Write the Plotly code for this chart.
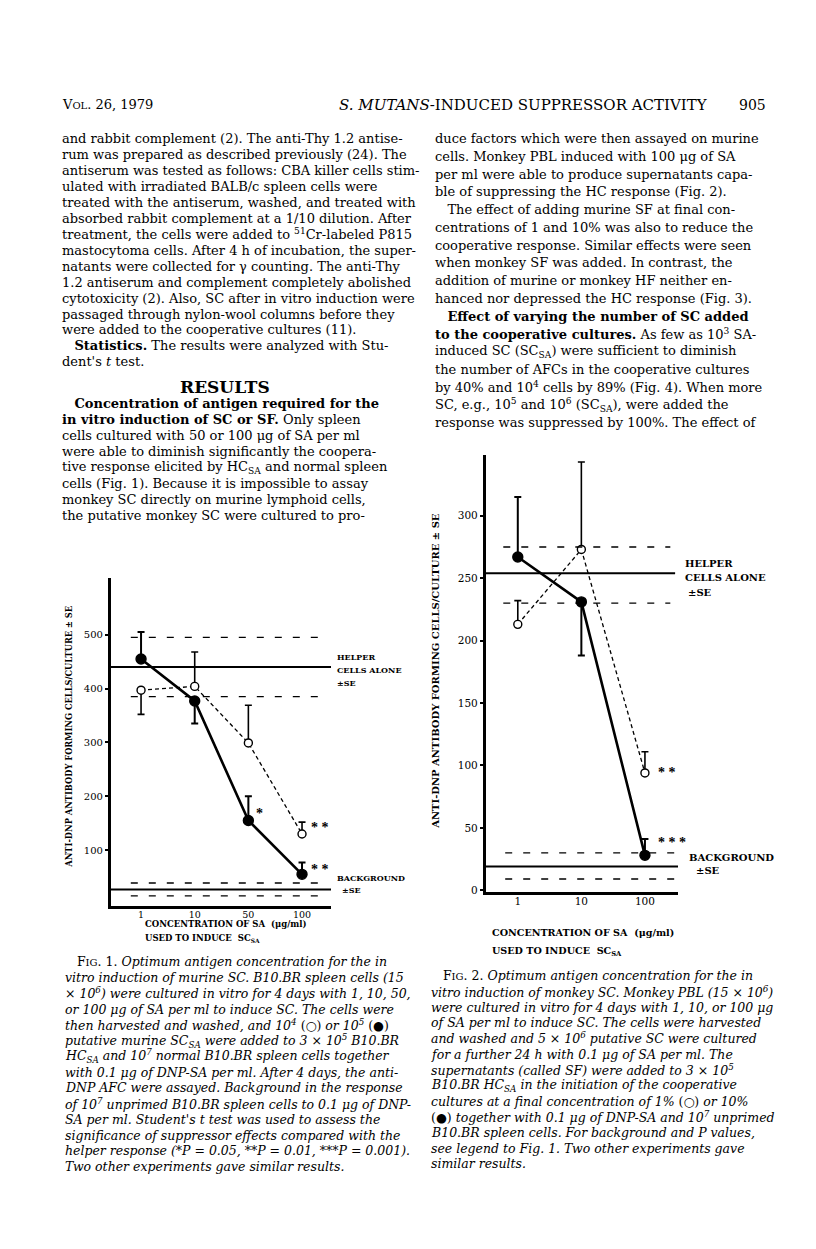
import plotly.graph_objects as go

# page size of the scanned sheet
W, H = 816, 1249

# ---- Fig. 1 data (murine SC) ----
fig1_conc = ["1", "10", "50", "100"]
fig1_filled = [455, 377, 155, 55]          # 10^5 SC
fig1_filled_up = [50, 0, 45, 22]
fig1_filled_down = [0, 42, 0, 0]
fig1_open = [397, 404, 299, 130]           # 10^4 SC
fig1_open_up = [0, 64, 70, 22]
fig1_open_down = [45, 0, 0, 0]
fig1_helper = [440, 385, 495]              # mean, -SE, +SE
fig1_background = [27, 15, 39]
fig1_yticks = [100, 200, 300, 400, 500]

# ---- Fig. 2 data (monkey SF) ----
fig2_conc = ["1", "10", "100"]
fig2_filled = [267, 231, 28]               # 10 %
fig2_filled_up = [48, 0, 13]
fig2_filled_down = [0, 43, 0]
fig2_open = [213, 273, 94]                 # 1 %
fig2_open_up = [19, 70, 17]
fig2_open_down = [0, 0, 0]
fig2_helper = [254, 230, 275]
fig2_background = [19, 9, 30]
fig2_yticks = [0, 50, 100, 150, 200, 250, 300]

BODY = "DejaVu Serif"
FIGF = "DejaVu Serif"
BS = 13  # body text size


def px(x):
    return x / W


def py(y):
    return 1 - y / H


fig = go.Figure()


def add_series(xa, ya, x, y, up, down, filled):
    fig.add_trace(go.Scatter(
        x=x, y=y, xaxis=xa, yaxis=ya, mode="lines+markers",
        line=dict(color="black", width=2.6 if filled else 1.3,
                  dash="solid" if filled else "4px,3px"),
        marker=dict(size=10 if filled else 8, color="black" if filled else "white",
                    line=dict(color="black", width=1.4), symbol="circle"),
        error_y=dict(type="data", symmetric=False, array=up, arrayminus=down,
                     color="black", thickness=2 if filled else 1.6, width=3.5),
        showlegend=False, hoverinfo="skip"))


add_series("x", "y", fig1_conc, fig1_open, fig1_open_up, fig1_open_down, False)
add_series("x", "y", fig1_conc, fig1_filled, fig1_filled_up, fig1_filled_down, True)
add_series("x2", "y2", fig2_conc, fig2_open, fig2_open_up, fig2_open_down, False)
add_series("x2", "y2", fig2_conc, fig2_filled, fig2_filled_up, fig2_filled_down, True)

shapes = []


def hline(xref, yref, y, x0, x1, dashed):
    shapes.append(dict(type="line", xref=xref, yref=yref, x0=x0, x1=x1, y0=y, y1=y,
                       line=dict(color="black", width=1.4 if dashed else 2,
                                 dash="7px,11px" if dashed else "solid")))


# helper and background reference bands
hline("x domain", "y", fig1_helper[0], 0, 1, False)
hline("x domain", "y", fig1_helper[1], 0.09, 0.955, True)
hline("x domain", "y", fig1_helper[2], 0.09, 0.955, True)
hline("x domain", "y", fig1_background[0], 0, 1, False)
hline("x domain", "y", fig1_background[1], 0.09, 0.955, True)
hline("x domain", "y", fig1_background[2], 0.09, 0.955, True)

hline("x2 domain", "y2", fig2_helper[0], 0, 0.985, False)
hline("x2 domain", "y2", fig2_helper[1], 0.09, 0.96, True)
hline("x2 domain", "y2", fig2_helper[2], 0.09, 0.96, True)
hline("x2 domain", "y2", fig2_background[0], 0, 1, False)
hline("x2 domain", "y2", fig2_background[1], 0.1, 1, True)
hline("x2 domain", "y2", fig2_background[2], 0.1, 1, True)

ann = []


def text(x, y, s, size=BS, anchor="left", family=BODY, angle=0, xref="paper", yref="paper",
         xshift=0):
    ann.append(dict(x=x, y=y, xref=xref, yref=yref, text=s, showarrow=False,
                    xanchor=anchor, yanchor="middle", textangle=angle, xshift=xshift,
                    font=dict(family=family, size=size, color="#000000")))


def page(x, y, s, **kw):
    text(px(x), py(y), s, **kw)


# header
page(52, 97, "V<span style='font-size:10px'>OL</span>. 26, 1979", size=13)
page(702, 97, "<i>S. MUTANS</i>-INDUCED SUPPRESSOR ACTIVITY", size=15, anchor="right")
page(760, 97, "905", size=14, anchor="right")

left_top = [
    "and rabbit complement (2). The anti-Thy 1.2 antise-",
    "rum was prepared as described previously (24). The",
    "antiserum was tested as follows: CBA killer cells stim-",
    "ulated with irradiated BALB/c spleen cells were",
    "treated with the antiserum, washed, and treated with",
    "absorbed rabbit complement at a 1/10 dilution. After",
    "treatment, the cells were added to <sup>51</sup>Cr-labeled P815",
    "mastocytoma cells. After 4 h of incubation, the super-",
    "natants were collected for γ counting. The anti-Thy",
    "1.2 antiserum and complement completely abolished",
    "cytotoxicity (2). Also, SC after in vitro induction were",
    "passaged through nylon-wool columns before they",
    "were added to the cooperative cultures (11).",
    "   <b>Statistics.</b> The results were analyzed with Stu-",
    "dent's <i>t</i> test.",
]
for i, s in enumerate(left_top):
    page(52, 131 + i * 16, s)

page(217, 380, "<b>RESULTS</b>", size=17, anchor="center")

left_bottom = [
    "   <b>Concentration of antigen required for the</b>",
    "<b>in vitro induction of SC or SF.</b> Only spleen",
    "cells cultured with 50 or 100 μg of SA per ml",
    "were able to diminish significantly the coopera-",
    "tive response elicited by HC<sub>SA</sub> and normal spleen",
    "cells (Fig. 1). Because it is impossible to assay",
    "monkey SC directly on murine lymphoid cells,",
    "the putative monkey SC were cultured to pro-",
]
for i, s in enumerate(left_bottom):
    page(52, 397 + i * 16, s)

right_top = [
    "duce factors which were then assayed on murine",
    "cells. Monkey PBL induced with 100 μg of SA",
    "per ml were able to produce supernatants capa-",
    "ble of suppressing the HC response (Fig. 2).",
    "   The effect of adding murine SF at final con-",
    "centrations of 1 and 10% was also to reduce the",
    "cooperative response. Similar effects were seen",
    "when monkey SF was added. In contrast, the",
    "addition of murine or monkey HF neither en-",
    "hanced nor depressed the HC response (Fig. 3).",
    "   <b>Effect of varying the number of SC added</b>",
    "<b>to the cooperative cultures.</b> As few as 10<sup>3</sup> SA-",
    "induced SC (SC<sub>SA</sub>) were sufficient to diminish",
    "the number of AFCs in the cooperative cultures",
    "by 40% and 10<sup>4</sup> cells by 89% (Fig. 4). When more",
    "SC, e.g., 10<sup>5</sup> and 10<sup>6</sup> (SC<sub>SA</sub>), were added the",
    "response was suppressed by 100%. The effect of",
]
for i, s in enumerate(right_top):
    page(425, 131 + i * 17.8, s)

cap1 = [
    "   F<span style='font-size:10px'>IG</span>. 1. <i>Optimum antigen concentration for the in</i>",
    "<i>vitro induction of murine SC. B10.BR spleen cells (15</i>",
    "<i>× 10<sup>6</sup>) were cultured in vitro for 4 days with 1, 10, 50,</i>",
    "<i>or 100 μg of SA per ml to induce SC. The cells were</i>",
    "<i>then harvested and washed, and 10<sup>4</sup></i> (○) <i>or 10<sup>5</sup></i> (●)",
    "<i>putative murine SC<sub>SA</sub> were added to 3 × 10<sup>5</sup> B10.BR</i>",
    "<i>HC<sub>SA</sub> and 10<sup>7</sup> normal B10.BR spleen cells together</i>",
    "<i>with 0.1 μg of DNP-SA per ml. After 4 days, the anti-</i>",
    "<i>DNP AFC were assayed. Background in the response</i>",
    "<i>of 10<sup>7</sup> unprimed B10.BR spleen cells to 0.1 μg of DNP-</i>",
    "<i>SA per ml. Student's t test was used to assess the</i>",
    "<i>significance of suppressor effects compared with the</i>",
    "<i>helper response (*P = 0.05, **P = 0.01, ***P = 0.001).</i>",
    "<i>Two other experiments gave similar results.</i>",
]
for i, s in enumerate(cap1):
    page(55, 957 + i * 15.8, s, size=12.5)

cap2 = [
    "   F<span style='font-size:10px'>IG</span>. 2. <i>Optimum antigen concentration for the in</i>",
    "<i>vitro induction of monkey SC. Monkey PBL (15 × 10<sup>6</sup>)</i>",
    "<i>were cultured in vitro for 4 days with 1, 10, or 100 μg</i>",
    "<i>of SA per ml to induce SC. The cells were harvested</i>",
    "<i>and washed and 5 × 10<sup>6</sup> putative SC were cultured</i>",
    "<i>for a further 24 h with 0.1 μg of SA per ml. The</i>",
    "<i>supernatants (called SF) were added to 3 × 10<sup>5</sup></i>",
    "<i>B10.BR HC<sub>SA</sub> in the initiation of the cooperative</i>",
    "<i>cultures at a final concentration of 1%</i> (○) <i>or 10%</i>",
    "(●) <i>together with 0.1 μg of DNP-SA and 10<sup>7</sup> unprimed</i>",
    "<i>B10.BR spleen cells. For background and P values,</i>",
    "<i>see legend to Fig. 1. Two other experiments gave</i>",
    "<i>similar results.</i>",
]
for i, s in enumerate(cap2):
    page(421, 971 + i * 15.7, s, size=12.5)

# figure labels
ytitle = "<b>ANTI-DNP ANTIBODY FORMING CELLS/CULTURE ± SE</b>"
page(61, 731, ytitle, size=8.3, family=FIGF, anchor="center", angle=-90)
page(428, 665, ytitle, size=10, family=FIGF, anchor="center", angle=-90)

page(135, 919, "<b>CONCENTRATION OF SA  (μg/ml)</b>", size=8.5, family=FIGF)
page(135, 933, "<b>USED TO INDUCE  SC<sub>SA</sub></b>", size=8.5, family=FIGF)
page(482, 927, "<b>CONCENTRATION OF SA  (μg/ml)</b>", size=9.6, family=FIGF)
page(482, 947, "<b>USED TO INDUCE  SC<sub>SA</sub></b>", size=9.6, family=FIGF)

page(327, 651, "<b>HELPER</b>", size=8, family=FIGF)
page(327, 664, "<b>CELLS ALONE</b>", size=8, family=FIGF)
page(327, 677, "<b>±SE</b>", size=8, family=FIGF)
page(327, 873, "<b>BACKGROUND</b>", size=8, family=FIGF)
page(332, 885, "<b>±SE</b>", size=8, family=FIGF)

page(675, 557, "<b>HELPER</b>", size=10, family=FIGF)
page(675, 571, "<b>CELLS ALONE</b>", size=10, family=FIGF)
page(678, 586, "<b>±SE</b>", size=10, family=FIGF)
page(679, 852, "<b>BACKGROUND</b>", size=10, family=FIGF)
page(686, 865, "<b>±SE</b>", size=10, family=FIGF)

# significance marks (category index from the data lists)
STAR = "Liberation Serif"
i50, i100 = fig1_conc.index("50"), fig1_conc.index("100")
j100 = fig2_conc.index("100")
text(i50, 168, "<b>*</b>", size=14, family=STAR, xref="x", yref="y", xshift=11, anchor="center")
text(i100, 142, "<b>* *</b>", size=14, family=STAR, xref="x", yref="y", xshift=18, anchor="center")
text(i100, 64, "<b>* *</b>", size=14, family=STAR, xref="x", yref="y", xshift=18, anchor="center")
text(j100, 94, "<b>* *</b>", size=14, family=STAR, xref="x2", yref="y2", xshift=22, anchor="center")
text(j100, 38, "<b>* * *</b>", size=14, family=STAR, xref="x2", yref="y2", xshift=27, anchor="center")

xcommon = dict(showline=True, linecolor="black", showgrid=False, zeroline=False,
               ticks="", ticklabelstandoff=-3, type="category")
ycommon = dict(showline=True, linecolor="black", showgrid=False, zeroline=False,
               ticks="outside", tickcolor="black", tickwidth=1.5, ticklen=3)

fig.update_layout(
    width=W, height=H, autosize=False,
    margin=dict(l=0, r=0, t=0, b=0),
    paper_bgcolor="white", plot_bgcolor="rgba(0,0,0,0)",
    showlegend=False,
    xaxis=dict(domain=[px(103), px(323)], anchor="y", range=[-0.56, 3.54], linewidth=3.2,
               tickfont=dict(family=FIGF, size=9.5, color="black"), **xcommon),
    yaxis=dict(domain=[py(901), py(572)], anchor="x", range=[-4, 605], linewidth=3.2,
               tickvals=fig1_yticks, tickfont=dict(family=FIGF, size=10, color="black"), **ycommon),
    xaxis2=dict(domain=[px(478), px(670)], anchor="y2", range=[-0.5, 2.52], linewidth=3.2,
                tickfont=dict(family=FIGF, size=10.5, color="black"), **xcommon),
    yaxis2=dict(domain=[py(887), py(448)], anchor="x2", range=[-1.5, 349], linewidth=3.2,
                tickvals=fig2_yticks, tickfont=dict(family=FIGF, size=10.5, color="black"), **ycommon),
    shapes=shapes,
    annotations=ann,
)

fig.write_html("out.html")
